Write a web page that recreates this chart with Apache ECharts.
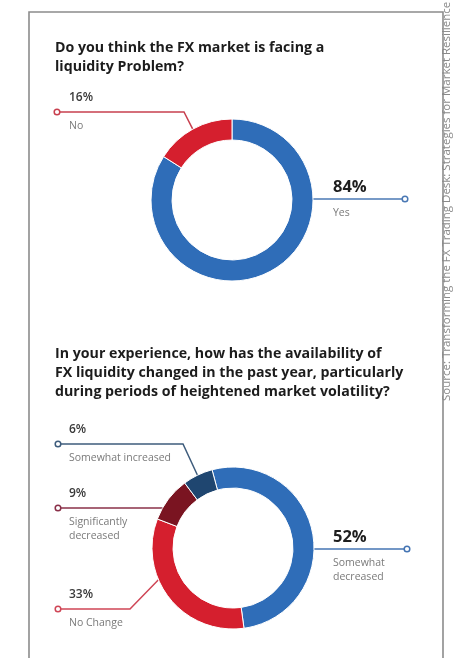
<!DOCTYPE html>
<html>
<head>
<meta charset="utf-8">
<script src="https://cdn.jsdelivr.net/npm/echarts@6/dist/echarts.min.js"></script>
<style>
  html, body { margin: 0; padding: 0; background: #ffffff; }
  #chart { width: 462px; height: 658px; }
</style>
</head>
<body>
<div id="chart"></div>
<script>
// Survey 1: is the FX market facing a liquidity problem?
const q1Categories = ['Yes', 'No'];
const q1Values = [84, 16];

// Survey 2: change in FX liquidity availability over the past year
const q2Categories = ['Somewhat\ndecreased', 'No Change', 'Significantly\ndecreased', 'Somewhat increased'];
const q2Values = [52, 33, 9, 6];

const q1Title = 'Do you think the FX market is facing a\nliquidity Problem?';
const q2Title = 'In your experience, how has the availability of\nFX liquidity changed in the past year, particularly\nduring periods of heightened market volatility?';
const sourceNote = 'Source: Transforming the FX Trading Desk: Strategies for Market Resilience';

// Styling
const FONT = '"Open Sans", Lato, sans-serif';
const q1Colors = ['#2f6db8', '#d51f2e'];
const q1LineColors = ['#4a78b4', '#c8404f'];
const q2Colors = ['#2f6db8', '#d51f2e', '#7a1421', '#1f4670'];
const q2LineColors = ['#4474b3', '#cf4656', '#8a3049', '#3e5c7c'];

const OUTER = 81, INNER = 60;
const pie1 = { cx: 232, cy: 200, start: 90 };
const pie2 = { cx: 233, cy: 548, start: 105 };

// Leader-line placement for each slice label
const q1Leaders = [
  { side: 'right', lineY: 199, endX: 405 },
  { side: 'left', lineY: 112, endX: 57, bendX: 184, anchorDeg: 119 }
];
const q2Leaders = [
  { side: 'right', lineY: 549, endX: 407 },
  { side: 'left', lineY: 609, endX: 58, bendX: 130, anchorDeg: 203 },
  { side: 'left', lineY: 508, endX: 58 },
  { side: 'left', lineY: 444, endX: 58, bendX: 183, anchorDeg: 116 }
];

function leaderPoints(pie, L) {
  if (L.bendX != null) {
    const a = L.anchorDeg * Math.PI / 180;
    return [
      [pie.cx + OUTER * Math.cos(a), pie.cy - OUTER * Math.sin(a)],
      [L.bendX, L.lineY],
      [L.endX, L.lineY]
    ];
  }
  const dy = L.lineY - pie.cy;
  const dx = Math.sqrt(OUTER * OUTER - dy * dy);
  const ax = L.side === 'right' ? pie.cx + dx - 1 : pie.cx - dx + 1;
  return [[ax, L.lineY], [L.endX, L.lineY]];
}

const richStyles = {
  v: { fontFamily: FONT, fontSize: 12, fontWeight: 600, color: '#3a3a3a', lineHeight: 14 },
  g: { fontSize: 4, lineHeight: 14 },
  V: { fontFamily: FONT, fontSize: 16.5, fontWeight: 'bold', color: '#1e1e1e', lineHeight: 10 },
  G: { fontSize: 4, lineHeight: 14 },
  n: { fontFamily: FONT, fontSize: 10.5, color: '#7a7a7a', lineHeight: 14 }
};

function buildSeries(pie, categories, values, colors, lineColors, leaders) {
  return {
    type: 'pie',
    center: [pie.cx, pie.cy],
    radius: [INNER, OUTER],
    startAngle: pie.start,
    clockwise: true,
    avoidLabelOverlap: false,
    emphasis: { disabled: true },
    itemStyle: { borderColor: '#ffffff', borderWidth: 1 },
    label: {
      show: true,
      position: 'outer',
      formatter: function (p) {
        const right = leaders[p.dataIndex].side === 'right';
        const names = p.name.split('\n').map(s => '{n|' + s + '}').join('\n');
        return (right ? '{V|' : '{v|') + p.value + '%}\n' + (right ? '{G| }' : '{g| }') + '\n' + names;
      },
      rich: richStyles
    },
    labelLine: { show: true, smooth: false, lineStyle: { width: 1.5 } },
    labelLayout: function (params) {
      const L = leaders[params.dataIndex];
      const right = L.side === 'right';
      return {
        x: right ? 333 : 69,
        y: L.lineY - (right ? 17 : 21),
        align: 'left',
        verticalAlign: 'top',
        labelLinePoints: leaderPoints(pie, L)
      };
    },
    data: categories.map((c, i) => ({
      name: c,
      value: values[i],
      itemStyle: { color: colors[i] },
      labelLine: { lineStyle: { color: lineColors[i], width: 1.5 } }
    }))
  };
}

// Small open circles at the outer end of each leader line
function endDots(leaders, lineColors) {
  return leaders.map((L, i) => ({
    type: 'circle',
    z: 100,
    shape: { cx: L.endX, cy: L.lineY, r: 2.8 },
    style: { fill: '#ffffff', stroke: lineColors[i], lineWidth: 1.5 }
  }));
}

const chart = echarts.init(document.getElementById('chart'), null, { renderer: 'canvas' });

chart.setOption({
  animation: false,
  backgroundColor: '#ffffff',
  title: [
    {
      text: q1Title, left: 55, top: 38, padding: 0,
      textStyle: { fontFamily: FONT, fontSize: 14.2, fontWeight: 'bold', color: '#1c1c1c', lineHeight: 19 }
    },
    {
      text: q2Title, left: 55, top: 345, padding: 0,
      textStyle: { fontFamily: FONT, fontSize: 14.2, fontWeight: 'bold', color: '#1c1c1c', lineHeight: 18.7 }
    }
  ],
  graphic: [
    {
      type: 'rect', z: -10, silent: true,
      shape: { x: 29, y: 12, width: 414, height: 680 },
      style: { fill: '#ffffff', stroke: '#8c8c8c', lineWidth: 1.6 }
    },
    {
      type: 'text', silent: true,
      x: 447, y: 401, rotation: Math.PI / 2,
      style: { text: sourceNote, font: '11.5px ' + FONT, fill: '#8a8a8a', textAlign: 'left', textVerticalAlign: 'middle' }
    }
  ].concat(endDots(q1Leaders, q1LineColors), endDots(q2Leaders, q2LineColors)),
  series: [
    buildSeries(pie1, q1Categories, q1Values, q1Colors, q1LineColors, q1Leaders),
    buildSeries(pie2, q2Categories, q2Values, q2Colors, q2LineColors, q2Leaders)
  ]
});
</script>
</body>
</html>
